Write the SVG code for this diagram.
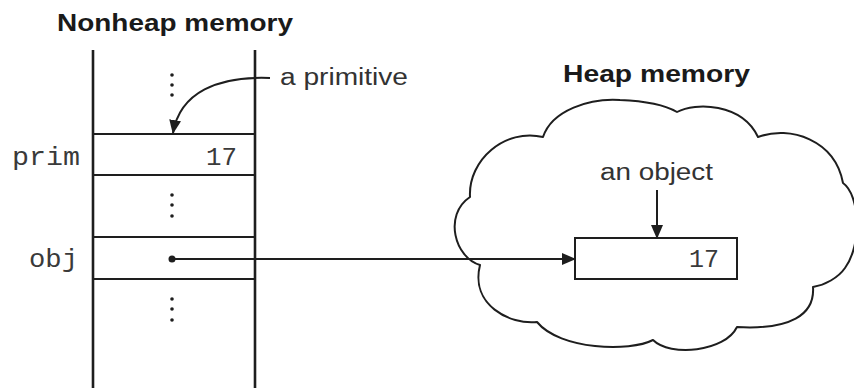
<svg xmlns="http://www.w3.org/2000/svg" width="854" height="390" viewBox="0 0 854 390">
<style>
.ln{stroke:#1e1e1e;stroke-width:2;fill:none}
.thick{stroke:#1e1e1e;stroke-width:2.6;fill:none}
.title{font-family:"Liberation Sans",Arial,sans-serif;font-weight:bold;font-size:24px;fill:#1a1a1a}
.lab{font-family:"Liberation Sans",Arial,sans-serif;font-size:23px;fill:#333}
.mono{font-family:"Liberation Mono","Courier New",monospace;font-size:26px;fill:#3a3a3a}
.dot{fill:#1e1e1e}
</style>
<defs>
<marker id="ah" markerUnits="userSpaceOnUse" markerWidth="14" markerHeight="12" viewBox="0 0 14 12" refX="13" refY="6" orient="auto">
<path d="M0,0 L14,6 L0,12 Z" fill="#1e1e1e"/>
</marker>
</defs>
<rect width="854" height="390" fill="#fff"/>

<g id="title-nonheap"><text class="title" x="57" y="31" textLength="236" lengthAdjust="spacingAndGlyphs">Nonheap memory</text></g>
<g id="title-heap"><text class="title" x="563" y="82" textLength="187" lengthAdjust="spacingAndGlyphs">Heap memory</text></g>

<g id="cloud">
<path class="ln" stroke-linejoin="round" d="M470,197 C468,160 505,128 543,137 C552,110 590,98 620,100 C645,101 665,105 677,112 C695,102 742,103 758,137 C790,125 835,140 843,183 C860,195 862,245 845,268 C838,278 825,285 813,287 C815,315 790,330 737,327 C725,352 670,357 653,340 C630,352 560,350 537,322 C510,325 470,305 480,265 C455,258 443,215 470,197 Z"/>
</g>

<g id="stack">
<line class="thick" x1="93" y1="50" x2="93" y2="388"/>
<line class="thick" x1="255" y1="50" x2="255" y2="388"/>
<circle class="dot" cx="172" cy="75" r="1.8"/><circle class="dot" cx="172" cy="85" r="1.8"/><circle class="dot" cx="172" cy="95" r="1.8"/>
<circle class="dot" cx="172" cy="195" r="1.8"/><circle class="dot" cx="172" cy="205" r="1.8"/><circle class="dot" cx="172" cy="216" r="1.8"/>
<circle class="dot" cx="172" cy="299" r="1.8"/><circle class="dot" cx="172" cy="309" r="1.8"/><circle class="dot" cx="172" cy="320" r="1.8"/>
</g>

<g id="prim-cell">
<line class="ln" x1="93" y1="134" x2="255" y2="134"/>
<line class="ln" x1="93" y1="175" x2="255" y2="175"/>
<text class="mono" x="12" y="165" textLength="68" lengthAdjust="spacingAndGlyphs">prim</text>
<text class="mono" x="206" y="165" textLength="31" lengthAdjust="spacingAndGlyphs">17</text>
</g>

<g id="obj-cell">
<line class="ln" x1="93" y1="237" x2="255" y2="237"/>
<line class="ln" x1="93" y1="279" x2="255" y2="279"/>
<text class="mono" x="29" y="267" textLength="49" lengthAdjust="spacingAndGlyphs">obj</text>
<circle class="dot" cx="172" cy="259" r="3.5"/>
</g>

<g id="heap-object">
<rect class="ln" x="575" y="238" width="162" height="41"/>
<text class="mono" x="689" y="267" textLength="30" lengthAdjust="spacingAndGlyphs">17</text>
</g>

<g id="label-primitive"><text class="lab" x="280" y="85" textLength="128" lengthAdjust="spacingAndGlyphs">a primitive</text></g>
<g id="label-object"><text class="lab" x="600" y="180" textLength="113" lengthAdjust="spacingAndGlyphs">an object</text></g>

<g id="connectors">
<path class="ln" d="M270,78 C218,76 180,92 173,133" marker-end="url(#ah)"/>
<line class="ln" x1="172" y1="259" x2="575" y2="259" marker-end="url(#ah)"/>
<line class="ln" x1="657" y1="190" x2="657" y2="238" marker-end="url(#ah)"/>
</g>
</svg>
